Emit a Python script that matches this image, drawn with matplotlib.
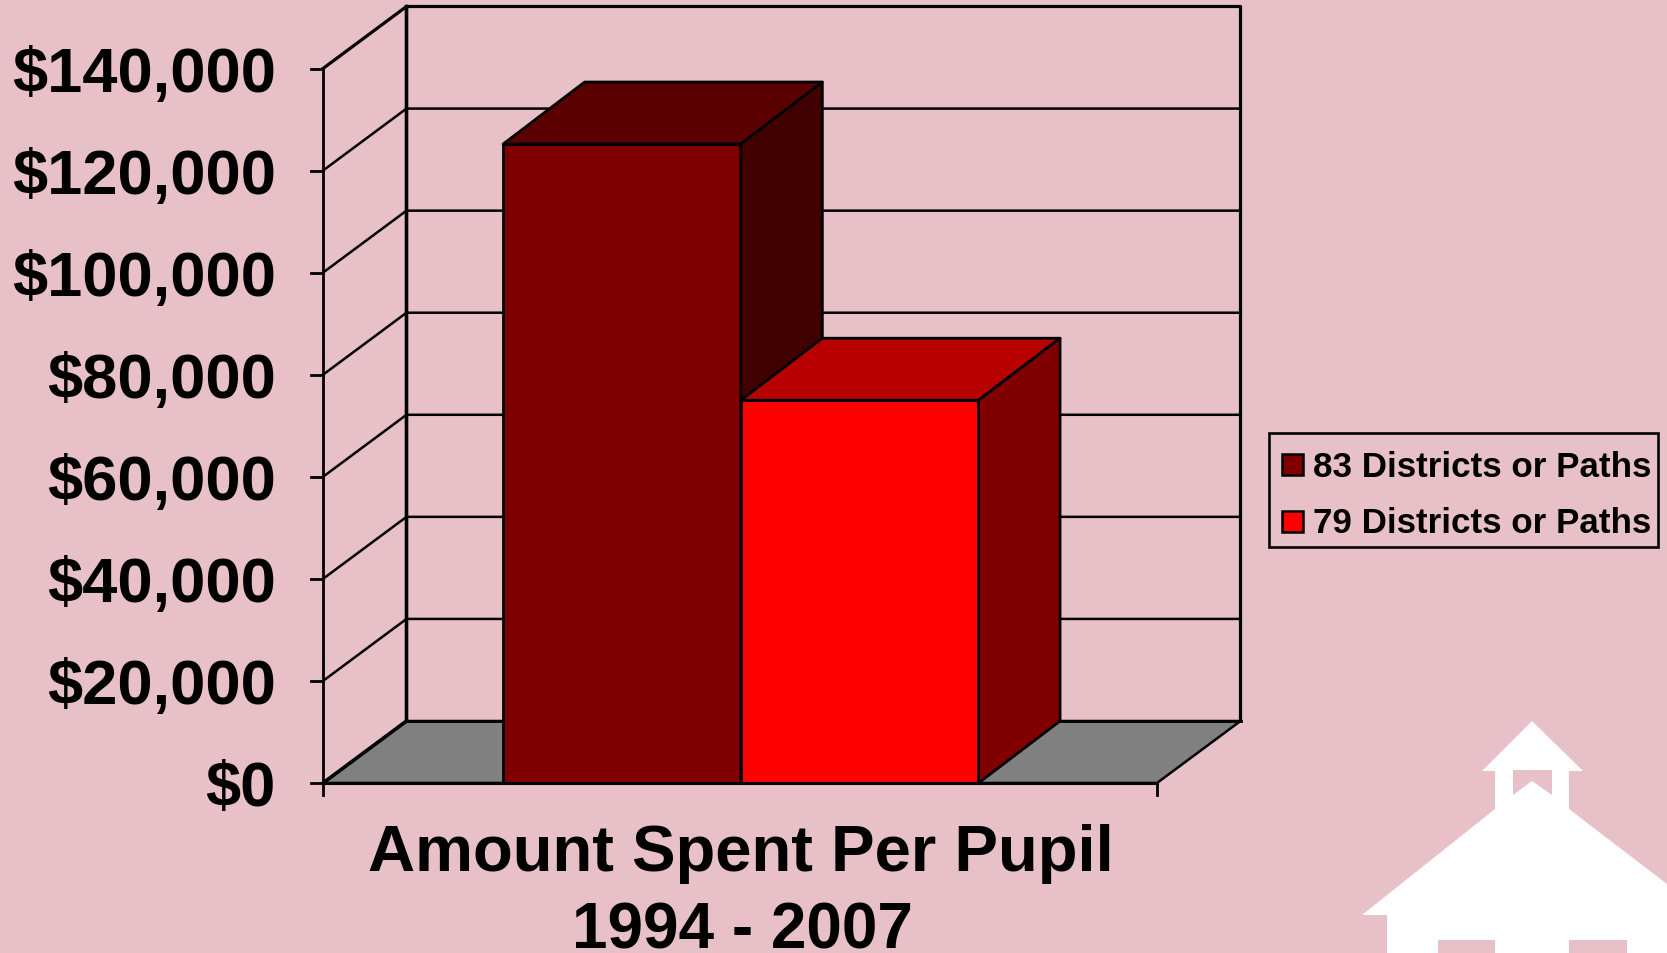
import matplotlib
matplotlib.use('Agg')
import matplotlib.pyplot as plt
from matplotlib.patches import Polygon, Rectangle
from matplotlib.transforms import Affine2D

plt.rcParams['font.family'] = ['Liberation Sans', 'DejaVu Sans']
plt.rcParams['font.weight'] = 'bold'

# data
labels = ['83 Districts or Paths', '79 Districts or Paths']
values = [125200, 75000]
ticks = [0, 20000, 40000, 60000, 80000, 100000, 120000, 140000]
title = ['Amount Spent Per Pupil', '1994 - 2007']

BG = '#E8C0C8'
front = ['#800000', '#FF0000']
top = ['#5A0000', '#B80000']
side = ['#400000', '#800000']

W, H = 1667, 954
fig = plt.figure(figsize=(W / 100, H / 100), dpi=100, facecolor=BG)
ax = fig.add_axes([0, 0, 1, 1])
ax.axis('off')

# front plane: x 0-1 spans px 323-1157, y 0-140000 spans px 784-69.5
x_per_px = 1 / (1157 - 323)
y_per_px = 140000 / (784 - 69.5)
ax.set_xlim(-323 * x_per_px, (W - 323) * x_per_px)
ax.set_ylim(-(H - 784) * y_per_px, 784 * y_per_px)

dx = 83.5 * x_per_px
dy = 62 * y_per_px
bar_dx = 81.5 * x_per_px
ymax = ticks[-1]

# floor
ax.add_patch(Polygon([(0, 0), (1, 0), (1 + dx, dy), (dx, dy)], fc='#808080', ec='black', lw=1.8, zorder=1))

# back and left walls
for t in ticks[1:-1]:
    ax.plot([0, dx, 1 + dx], [t, t + dy, t + dy], color='black', lw=1.8, zorder=2)
ax.plot([0, dx, dx], [0, dy, ymax + dy], color='black', lw=2.6, zorder=2)
ax.plot([0, dx, 1 + dx, 1 + dx], [ymax, ymax + dy, ymax + dy, dy], color='black', lw=2.3, zorder=2)
ax.plot([dx, 1 + dx], [dy, dy], color='black', lw=2.0, zorder=2)

# axis lines and ticks
ax.plot([0, 0], [-12 * y_per_px, ymax], color='black', lw=2.0, zorder=6)
ax.plot([0, 1], [0, 0], color='black', lw=2.2, zorder=6)
ax.plot([1, 1], [-12 * y_per_px, 0], color='black', lw=2.0, zorder=6)
for t in ticks:
    ax.plot([-12 * x_per_px, 0], [t, t], color='black', lw=2.0, zorder=6)
    ax.text(-47 * x_per_px, t + 1 * y_per_px, '${:,}'.format(t), ha='right', va='center_baseline',
            fontsize=45.5, color='black')

# 3d bars
bw = 0.285
x0 = 0.216
for i, v in enumerate(values):
    a = x0 + i * bw
    b = a + bw
    z = 3 + i
    style = dict(ec='black', lw=2.0, joinstyle='round', zorder=z)
    ax.add_patch(Polygon([(a, 0), (b, 0), (b, v), (a, v)], fc=front[i], **style))
    ax.add_patch(Polygon([(a, v), (b, v), (b + bar_dx, v + dy), (a + bar_dx, v + dy)], fc=top[i], **style))
    ax.add_patch(Polygon([(b, 0), (b + bar_dx, dy), (b + bar_dx, v + dy), (b, v)], fc=side[i], **style))

ax.text(0.5015, -87 * y_per_px, title[0], ha='center', va='baseline', fontsize=47, color='black')
ax.text(0.503, -165 * y_per_px, title[1], ha='center', va='baseline', fontsize=46, color='black')

# pixel coords from the top left, for the legend box and the schoolhouse
px = Affine2D().scale(1, -1).translate(0, H)

ax.add_patch(Rectangle((1269, 434), 389, 114, fc='none', ec='black', lw=1.9, transform=px, zorder=8))
for i, lab in enumerate(labels):
    ax.add_patch(Rectangle((1282, 455 + i * 56.5), 21, 21, fc=front[i], ec='black', lw=1.8, transform=px, zorder=8))
    ax.text(1313, 477.5 + i * 56, lab, transform=px, ha='left', va='baseline', fontsize=25.2, color='black', zorder=8)

house = [(1532, 722), (1583, 772), (1569, 772), (1569, 810), (1667, 885), (1667, 954), (1627, 954),
         (1627, 941), (1569, 941), (1569, 954), (1495, 954), (1495, 941), (1438, 941), (1438, 954),
         (1387, 954), (1387, 916), (1362, 916), (1495, 810), (1495, 772), (1482, 772)]
belfry = [(1513, 771), (1552, 771), (1552, 796), (1532, 782), (1513, 796)]
ax.add_patch(Polygon(house, fc='white', ec='none', transform=px, zorder=1, clip_on=False))
ax.add_patch(Polygon(belfry, fc=BG, ec='none', transform=px, zorder=1.5, clip_on=False))

fig.savefig('out.png', dpi=100, facecolor=BG)
